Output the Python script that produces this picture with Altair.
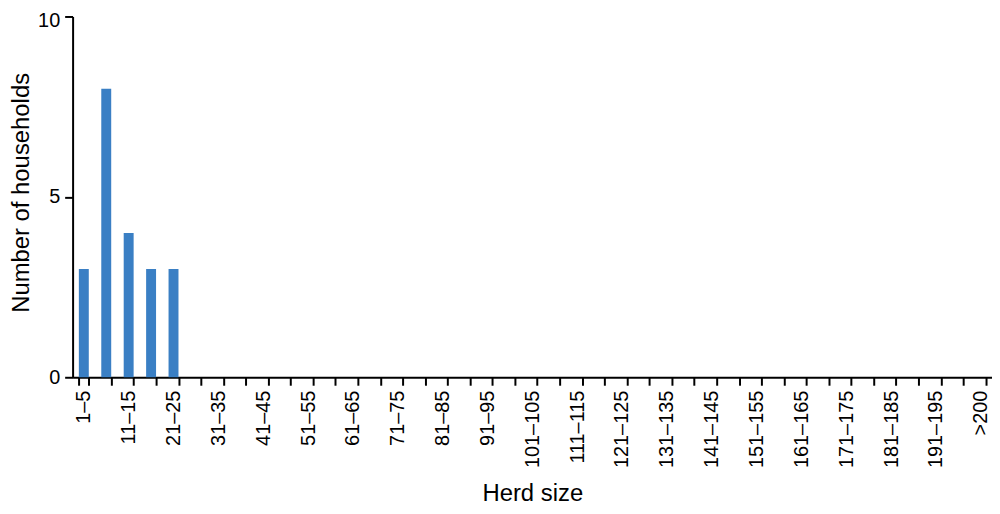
import altair as alt
import pandas as pd

categories = [f"{i}\u2013{i+4}" for i in range(1, 200, 5)] + [">200"]
counts = [3, 8, 4, 3, 3] + [0] * 31 + [None] * 5
shown_labels = categories[0::2]

df = pd.DataFrame({"herd": categories, "n": counts})

label_list = ",".join("'" + s + "'" for s in shown_labels)
label_expr = f"indexof([{label_list}], datum.value) >= 0 ? datum.label : ''"

FONT = "Liberation Sans"

chart = alt.Chart(df).mark_bar(color="#3a7fc4").encode(
    x=alt.X("herd:N", sort=categories,
            scale=alt.Scale(paddingInner=0.557, paddingOuter=0.2785),
            axis=alt.Axis(title="Herd size", labelAngle=270, labelExpr=label_expr,
                          tickBand="extent", tickSize=8, labelPadding=5,
                          labelFontSize=20, titleFontSize=24,
                          titleBaseline="alphabetic", titleY=124,
                          labelFont=FONT, titleFont=FONT,
                          titleFontWeight="normal", domainColor="black", tickColor="black",
                          labelColor="black", titleColor="black", domainWidth=2, tickWidth=2,
                          labelOverlap=False)),
    y=alt.Y("n:Q", scale=alt.Scale(domain=[0, 10]),
            axis=alt.Axis(title="Number of households", values=[0, 5, 10], grid=False,
                          tickSize=8, labelPadding=5, labelFontSize=20, titleFontSize=24,
                          labelOffset={"condition": {"test": "datum.value == 10", "value": 4}, "value": 0},
                          titleBaseline="alphabetic", titleX=-44, titleY=177,
                          labelFont=FONT, titleFont=FONT,
                          titleFontWeight="normal", domainColor="black", tickColor="black",
                          labelColor="black", titleColor="black", domainWidth=2, tickWidth=2)),
).properties(
    width=925, height=363,
    autosize=alt.AutoSizeParams(type="none"),
    padding={"left": 65, "top": 7, "right": 0, "bottom": 128},
).configure_view(stroke=None)

chart.save("out.html", embed_options={"renderer": "svg", "actions": False})
